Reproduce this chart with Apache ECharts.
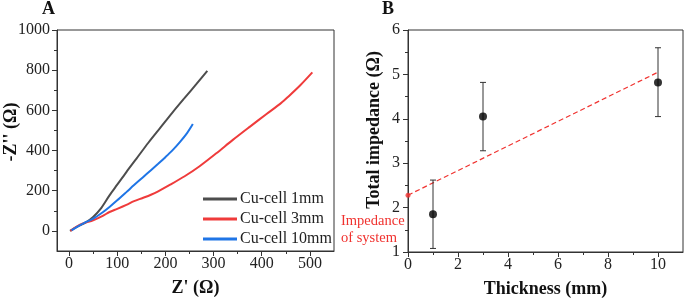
<!DOCTYPE html>
<html>
<head>
<meta charset="utf-8">
<script src="https://cdn.jsdelivr.net/npm/echarts@6/dist/echarts.min.js"></script>
<style>
html,body{margin:0;padding:0;background:#fff;}
#chart{width:685px;height:304px;}
</style>
</head>
<body>
<div id="chart"></div>
<script>
// ---------- Panel A: Nyquist data [Z', -Z''] ----------
const cell1mm = [[2,0],[10,12],[20,25],[35,42],[50,69],[65,108],[84,177],[100,230],[119,293],[140,360],[165,440],[190,515],[215,590],[240,662],[265,733],[287,797]];
const cell3mm = [[3,0],[15,20],[30,38],[50,53],[70,75],[84,94],[100,110],[119,130],[135,148],[153,164],[170,180],[185,197],[210,230],[240,272],[271,322],[305,385],[340,453],[375,518],[410,582],[440,636],[455,668],[480,725],[505,789]];
const cell10mm = [[5,3],[15,18],[30,38],[50,61],[70,93],[84,119],[100,152],[119,193],[135,228],[153,266],[170,302],[185,334],[200,367],[215,402],[230,442],[245,487],[257,532]];
const seriesNamesA = ['Cu-cell 1mm','Cu-cell 3mm','Cu-cell 10mm'];
const xTicksA = [0,100,200,300,400,500];
const xMinorA = [50,150,250,350,450];
const yTicksA = [0,200,400,600,800,1000];
const yMinorA = [100,300,500,700,900];

// ---------- Panel B: total impedance vs thickness ----------
const thickness = [1,3,10];
const impedance = [1.85,4.05,4.82];
const errLow = [1.08,3.28,4.05];
const errHigh = [2.62,4.82,5.60];
const fitX = [0,10];
const fitY = [2.28,5.05];
const systemImpedance = [0,2.28];
const xTicksB = [0,2,4,6,8,10];
const xMinorB = [1,3,5,7,9];
const yTicksB = [1,2,3,4,5,6];
const yMinorB = [1.5,2.5,3.5,4.5,5.5];

const FONT = '"Liberation Serif","Times New Roman",serif';
const AX = '#333';

function mainAxis(grid, pos, min, max, ticks, margin, extra){
  return Object.assign({
    type:'value', gridIndex:grid, position:pos, min:min, max:max,
    axisLine:{show:true, onZero:false, lineStyle:{color:AX, width:1}},
    axisTick:{show:true, inside:false, length:5, customValues:ticks, lineStyle:{color:AX}},
    axisLabel:{show:true, customValues:ticks, color:'#222', fontFamily:FONT, fontSize:16, margin:margin,
      formatter:function(v){return String(v);}},
    splitLine:{show:false}
  }, extra||{});
}
function minorAxis(grid, pos, min, max, ticks){
  return {
    type:'value', gridIndex:grid, position:pos, offset:0, min:min, max:max,
    axisLine:{show:false, onZero:false},
    axisTick:{show:true, inside:false, length:3, customValues:ticks, lineStyle:{color:AX}},
    axisLabel:{show:false},
    splitLine:{show:false}
  };
}
const nameStyle = {fontFamily:FONT, fontWeight:'bold', fontSize:18, color:'#111'};

const colors = ['#4d4d4d','#ef3b3b','#1f75e6'];

const chart = echarts.init(document.getElementById('chart'), null, {renderer:'canvas'});
chart.setOption({
  animation:false,
  textStyle:{fontFamily:FONT},
  grid:[
    {left:57, top:30, width:277, height:221, show:true, borderColor:AX, borderWidth:1, backgroundColor:'transparent', outerBoundsMode:'none', containLabel:false},
    {left:408, top:30, width:275, height:222, show:true, borderColor:AX, borderWidth:1, backgroundColor:'transparent', outerBoundsMode:'none', containLabel:false}
  ],
  xAxis:[
    mainAxis(0,'bottom',-25,550,xTicksA,5,{name:"Z' (Ω)", nameLocation:'middle', nameGap:28, nameTextStyle:nameStyle}),
    minorAxis(0,'bottom',-25,550,xMinorA),
    mainAxis(1,'bottom',0,11,xTicksB,5,{name:'Thickness (mm)', nameLocation:'middle', nameGap:28, nameTextStyle:nameStyle}),
    minorAxis(1,'bottom',0,11,xMinorB)
  ],
  yAxis:[
    mainAxis(0,'left',-100,1000,yTicksA,7),
    minorAxis(0,'left',-100,1000,yMinorA),
    mainAxis(1,'left',1,6,yTicksB,8),
    minorAxis(1,'left',1,6,yMinorB)
  ],
  legend:{
    data:seriesNamesA, orient:'vertical', left:203, top:191, padding:0, itemWidth:34, itemHeight:3, itemGap:4,
    icon:'rect',
    textStyle:{fontFamily:FONT, fontSize:16, color:'#222', lineHeight:16, padding:[0,0,0,-2]},
    selectedMode:false
  },
  series:[
    {name:seriesNamesA[0], type:'line', xAxisIndex:0, yAxisIndex:0, data:cell1mm, showSymbol:false, smooth:0.3,
      lineStyle:{color:colors[0], width:2}, itemStyle:{color:colors[0]}},
    {name:seriesNamesA[1], type:'line', xAxisIndex:0, yAxisIndex:0, data:cell3mm, showSymbol:false, smooth:0.3,
      lineStyle:{color:colors[1], width:2}, itemStyle:{color:colors[1]}},
    {name:seriesNamesA[2], type:'line', xAxisIndex:0, yAxisIndex:0, data:cell10mm, showSymbol:false, smooth:0.3,
      lineStyle:{color:colors[2], width:2}, itemStyle:{color:colors[2]}},
    {name:'fit', type:'line', xAxisIndex:2, yAxisIndex:2, data:fitX.map((x,i)=>[x,fitY[i]]), showSymbol:false,
      lineStyle:{color:'#f0322f', width:1.2, type:[5,3]}, z:2},
    {name:'system', type:'scatter', xAxisIndex:2, yAxisIndex:2, data:[systemImpedance], symbolSize:5, clip:false,
      itemStyle:{color:'#f0322f'}, z:3},
    {name:'err', type:'custom', xAxisIndex:2, yAxisIndex:2,
      data:thickness.map((t,i)=>[t,errLow[i],errHigh[i]]),
      encode:{x:0, y:[1,2]},
      renderItem:function(params, api){
        const x = api.value(0);
        const lo = api.coord([x, api.value(1)]);
        const hi = api.coord([x, api.value(2)]);
        const w = 3;
        const st = {stroke:'#333', lineWidth:1};
        return {type:'group', children:[
          {type:'line', shape:{x1:lo[0], y1:lo[1], x2:hi[0], y2:hi[1]}, style:st},
          {type:'line', shape:{x1:lo[0]-w, y1:lo[1], x2:lo[0]+w, y2:lo[1]}, style:st},
          {type:'line', shape:{x1:hi[0]-w, y1:hi[1], x2:hi[0]+w, y2:hi[1]}, style:st}
        ]};
      }, z:4},
    {name:'impedance', type:'scatter', xAxisIndex:2, yAxisIndex:2, data:thickness.map((t,i)=>[t,impedance[i]]),
      symbolSize:8, itemStyle:{color:'#000'}, z:5}
  ],
  graphic:[
    {type:'text', left:42, top:0, style:{text:'A', font:'bold 18px '+FONT, fill:'#111'}},
    {type:'text', left:382, top:0, style:{text:'B', font:'bold 18px '+FONT, fill:'#111'}},
    {type:'text', x:11, y:132, rotation:Math.PI/2,
      style:{text:"-Z'' (Ω)", font:'bold 18px '+FONT, fill:'#111', align:'center', verticalAlign:'middle'}},
    {type:'text', x:374, y:130, rotation:Math.PI/2,
      style:{text:'Total impedance (Ω)', font:'bold 18px '+FONT, fill:'#111', align:'center', verticalAlign:'middle'}},
    {type:'text', left:341, top:213, style:{text:'Impedance\nof system', font:'14.5px '+FONT, fill:'#f0322f', lineHeight:17}}
  ]
});
</script>
</body>
</html>
